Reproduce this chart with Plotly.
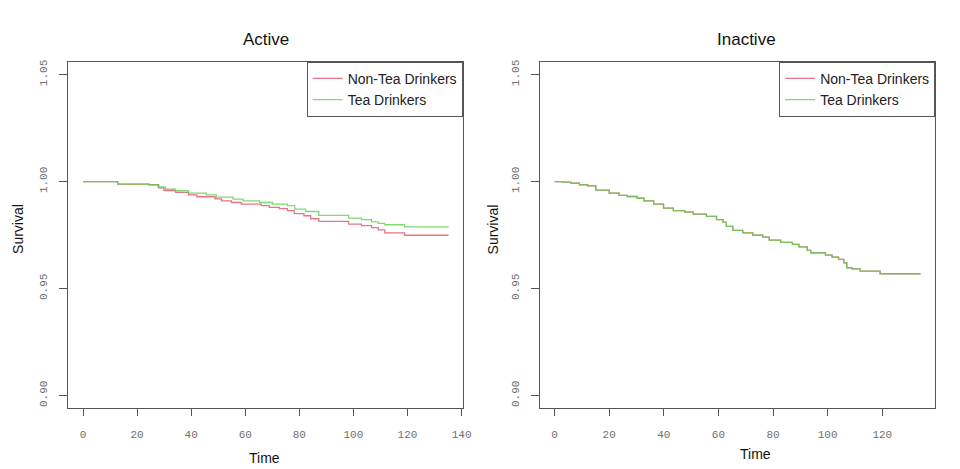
import plotly.graph_objects as go

# ---------------- data ----------------
active_non_t = [0, 12.8, 24.4, 28.0, 29.9, 34.2, 39.0, 42.1, 48.8, 51.2, 54.9, 58.5, 65.9, 68.9,
                72.6, 75.6, 78.1, 81.7, 84.2, 87.2, 98.2, 103.0, 106.7, 109.2, 111.6, 118.9, 135.2]
active_non_s = [1.0, 0.9988, 0.9985, 0.9970, 0.9958, 0.9949, 0.9938, 0.9929, 0.9919, 0.9910, 0.9902,
                0.9894, 0.9887, 0.9879, 0.9873, 0.9864, 0.9850, 0.9840, 0.9826, 0.9814, 0.9801,
                0.9794, 0.9785, 0.9774, 0.9760, 0.9749, 0.9749]

active_tea_t = [0, 12.8, 24.4, 27.7, 30.5, 34.2, 39.0, 45.6, 49.3, 55.5, 59.2, 65.3, 70.1, 75.6,
                78.3, 82.3, 87.2, 98.2, 103.0, 106.7, 109.2, 111.6, 118.9, 135.2]
active_tea_s = [1.0, 0.9988, 0.9985, 0.9975, 0.9964, 0.9957, 0.9946, 0.9938, 0.9927, 0.9918, 0.9910,
                0.9902, 0.9894, 0.9887, 0.9871, 0.9860, 0.9842, 0.9829, 0.9822, 0.9811, 0.9804,
                0.9798, 0.9788, 0.9788]

inactive_t = [0, 3.0, 6.0, 9.1, 12.1, 15.1, 20.0, 23.6, 26.6, 30.2, 32.7, 36.3, 39.9, 43.5, 47.7,
              50.8, 55.6, 59.3, 61.7, 62.9, 65.3, 68.9, 72.6, 76.2, 78.6, 82.8, 87.1, 89.5, 92.5,
              93.8, 99.2, 101.6, 104.0, 105.9, 107.0, 108.9, 111.9, 119.2, 134.0]
inactive_non_s = [1.0, 0.9997, 0.9992, 0.9985, 0.9980, 0.9960, 0.9946, 0.9935, 0.9930, 0.9922,
                  0.9910, 0.9894, 0.9876, 0.9864, 0.9857, 0.9848, 0.9837, 0.9822, 0.9809, 0.9790,
                  0.9772, 0.9760, 0.9749, 0.9740, 0.9726, 0.9716, 0.9706, 0.9695, 0.9678, 0.9667,
                  0.9656, 0.9647, 0.9636, 0.9620, 0.9597, 0.9592, 0.9581, 0.9569, 0.9569]
inactive_tea_s = list(inactive_non_s)

series_names = ["Non-Tea Drinkers", "Tea Drinkers"]
panel_titles = ["Active", "Inactive"]
y_ticks = [0.90, 0.95, 1.00, 1.05]
y_ticktext = ["0.90", "0.95", "1.00", "1.05"]
x_ticks_left = [0, 20, 40, 60, 80, 100, 120, 140]
x_ticks_right = [0, 20, 40, 60, 80, 100, 120]

RED = "#DF536B"
GREEN = "#61D04F"
FRAME = "#555555"

fig = go.Figure()

def add(x, y, name, color, xa, ya, legend):
    fig.add_trace(go.Scatter(x=x, y=y, mode="lines", line_shape="hv", name=name,
                             line=dict(color=color, width=1.3), opacity=0.8,
                             xaxis=xa, yaxis=ya, legend=legend))

add(active_non_t, active_non_s, series_names[0], RED, "x", "y", "legend")
add(active_tea_t, active_tea_s, series_names[1], GREEN, "x", "y", "legend")
add(inactive_t, inactive_non_s, series_names[0], RED, "x2", "y2", "legend2")
add(inactive_t, inactive_tea_s, series_names[1], GREEN, "x2", "y2", "legend2")

# the page body has an 8px margin; lay the figure out in page pixels
OFF = 8
W, H = 960 - OFF, 469 - OFF
def px(x):
    return (x - OFF) / W
def py(y):
    return 1 - (y - OFF) / H

tickfont = dict(family="Liberation Mono", size=11, color="#6f6f6f")
common_x = dict(showline=True, mirror=True, linecolor=FRAME, linewidth=1, showgrid=False,
                zeroline=False, ticks="outside", ticklen=7, tickcolor=FRAME, tickfont=tickfont,
                ticklabelstandoff=9)
common_y = dict(showline=True, mirror=True, linecolor=FRAME, linewidth=1, showgrid=False,
                zeroline=False, ticks="outside", ticklen=8, tickcolor=FRAME, tickfont=tickfont,
                range=[0.894, 1.056], tickvals=y_ticks, ticktext=y_ticktext, tickangle=-90,
                ticklabelstandoff=8)

legend_common = dict(bordercolor=FRAME, borderwidth=1, bgcolor="white",
                     font=dict(family="Liberation Sans", size=14, color="#222222"),
                     xanchor="right", yanchor="top", tracegroupgap=0)

fig.update_layout(
    width=W, height=H, margin=dict(l=0, r=0, t=0, b=0),
    paper_bgcolor="white", plot_bgcolor="white",
    xaxis=dict(domain=[px(69), px(467)], range=[-5.4, 140.4], tickvals=x_ticks_left, **common_x),
    yaxis=dict(domain=[py(408), py(60)], anchor="x", **common_y),
    xaxis2=dict(domain=[px(545), px(944)], range=[-5.36, 139.36], tickvals=x_ticks_right,
                anchor="y2", **common_x),
    yaxis2=dict(domain=[py(408), py(60)], anchor="x2", **common_y),
    legend=dict(x=px(467), y=py(60), **legend_common),
    legend2=dict(x=px(944), y=py(60), **legend_common),
    showlegend=True,
)

title_font = dict(family="Liberation Sans", size=17, color="#111111")
label_font = dict(family="Liberation Sans", size=14, color="#111111")
annots = [
    dict(text=panel_titles[0], x=px(268), y=py(38), font=title_font),
    dict(text=panel_titles[1], x=px(754), y=py(38), font=title_font),
    dict(text="Time", x=px(267), y=py(458), font=label_font),
    dict(text="Time", x=px(763), y=py(454), font=label_font),
    dict(text="Survival", x=px(18), y=py(228), font=label_font, textangle=-90),
    dict(text="Survival", x=px(498), y=py(228), font=label_font, textangle=-90),
]
for a in annots:
    fig.add_annotation(xref="paper", yref="paper", showarrow=False,
                       xanchor="center", yanchor="middle", **a)

fig.write_html("out.html", config={"displayModeBar": False})
